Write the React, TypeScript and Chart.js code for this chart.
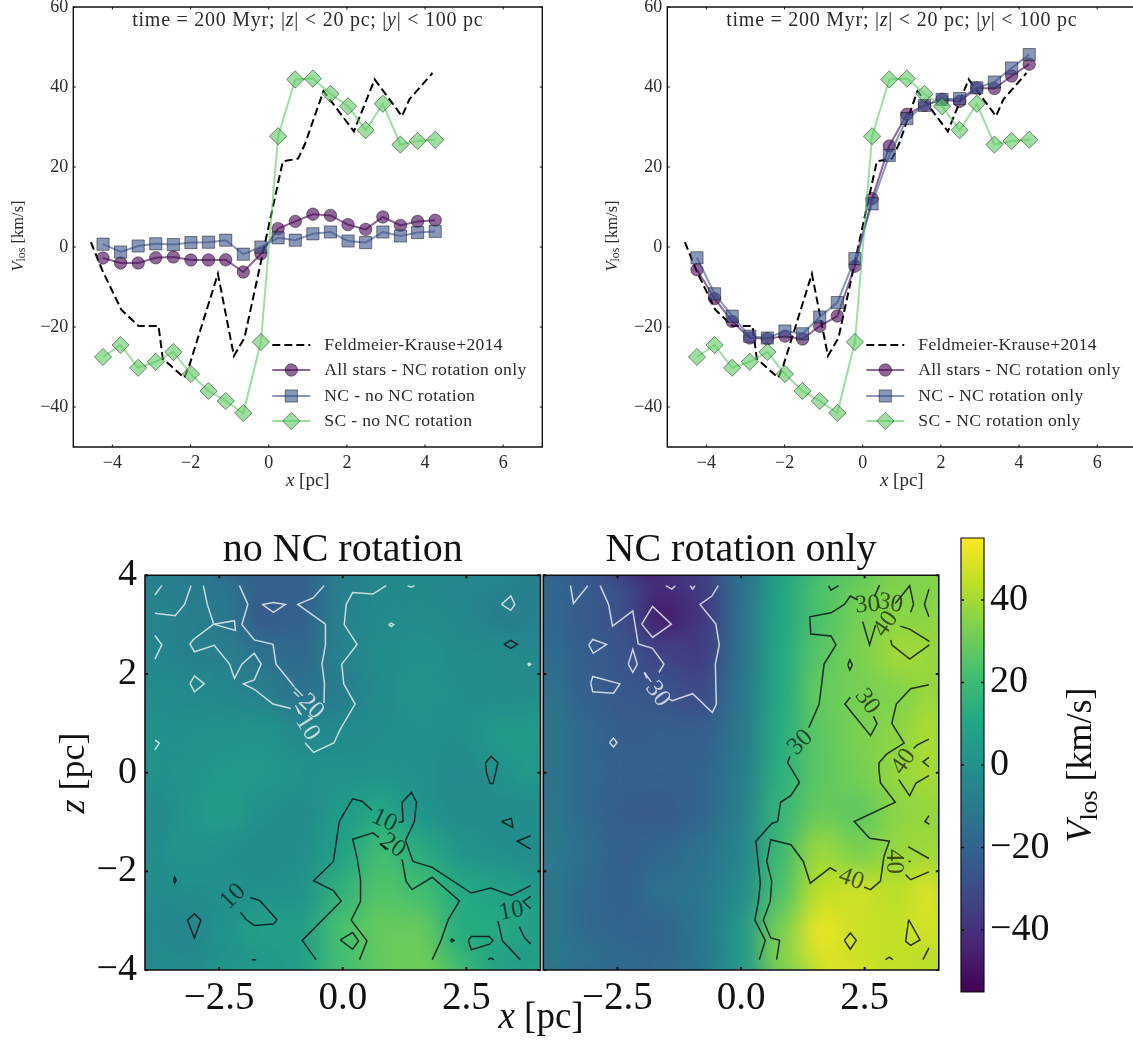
import React, { useEffect, useRef } from "react";
import { Chart, registerables } from "chart.js";
import { drawPoint } from "chart.js/helpers";

Chart.register(...registerables);

const SERIF = '"Liberation Serif"';
const W = 1200;
const H = 1040;

// ---------- line panels: data ----------
const xPositions = [-4.24, -3.79, -3.34, -2.89, -2.44, -1.99, -1.54, -1.1, -0.65, -0.2, 0.24, 0.68, 1.13, 1.58, 2.03, 2.48, 2.92, 3.37, 3.81, 4.26];
const feldmeierX = [-4.55, -4.26, -3.77, -3.33, -2.82, -2.71, -2.16, -2.03, -1.3, -0.89, -0.62, -0.19, 0.36, 0.75, 0.93, 1.4, 2.18, 2.71, 3.41, 3.6, 4.19];
const feldmeierV = [1.2, -5.8, -15.7, -19.75, -19.75, -27.9, -32.7, -29.6, -6.7, -27.25, -22.7, -3.3, 21.4, 22.1, 25.8, 39, 28.9, 41.9, 32.7, 36.9, 43.5];
const sc = [-27.5, -24.5, -30.2, -28.7, -26.25, -31.75, -36, -38.5, -41.5, -23.75, 27.7, 41.9, 42.1, 38.3, 35.2, 29.2, 35.8, 25.6, 26.5, 26.8];
const allNoRot = [-2.75, -4, -4, -2.7, -2.5, -3.25, -3.25, -3.2, -6.25, -1.7, 4.6, 6.4, 8.2, 7.9, 5.6, 4.4, 7.5, 5.4, 6.4, 6.7];
const ncNoRot = [0.7, -1.25, 0.25, 0.8, 0.6, 1.1, 1.2, 1.7, -1.8, 0, 2.3, 1.7, 3.3, 3.75, 1.5, 1.1, 3.75, 2.75, 3.6, 3.9];
const allRot = [-5.7, -12.9, -18.6, -22.75, -22.9, -22.3, -23, -19.8, -17.25, -4.8, 12.1, 25.25, 33.2, 35.4, 36.9, 36.4, 39.75, 39.6, 42.75, 45.7];
const ncRot = [-2.7, -11.7, -17.3, -22.3, -22.75, -21, -21.7, -17.5, -13.9, -2.9, 10.8, 22.9, 32.1, 35.4, 36.9, 37.1, 39.8, 41.25, 44.75, 48.1];
const legendLeft = ["Feldmeier-Krause+2014", "All stars - NC rotation only", "NC - no NC rotation", "SC - no NC rotation"];
const legendRight = ["Feldmeier-Krause+2014", "All stars - NC rotation only", "NC - NC rotation only", "SC - NC rotation only"];
const lineXTicks = [-4, -2, 0, 2, 4, 6];
const lineYTicks = [-40, -20, 0, 20, 40, 60];

// ---------- maps: data ----------
const heatX = [-4, -3.2, -2.4, -1.6, -0.8, 0, 0.8, 1.6, 2.4, 3.2, 4];
const heatZ = [4, 3.2, 2.4, 1.6, 0.8, 0, -0.8, -1.6, -2.4, -3.2, -4];
const heatLeft = [
  [-6, -9, -11, -18, -22, -9, -5, -4, -6, -5, -8],
  [-4, -8, -11, -25, -21, -7, -3, -2, -4, -9, -8],
  [-4, -7, -8, -14, -18, -6, -2, 1, -2, -2, -5],
  [-1, -3, -4, -8, -14, -9, -2, 2, -1, -2, -2],
  [0, 0, 1, 2, -4, -3, -1, 0, -1, 5, 5],
  [0, 1, 4, 4, 1, 1, 1, 0, -3, 1, 6],
  [-6, 2, 6, 0, -2, 5, 11, 1, -2, -2, -2],
  [-4, 2, 0, -3, -1, 7, 21, 13, 2, -1, -3],
  [-4, -1, -1, 0, 1, 16, 25, 21, 12, 8, 5],
  [-3, -6, 1, 8, 6, 23, 29, 29, 12, 12, 6],
  [2, -3, 0, 1, 7, 20, 28, 32, 18, 6, -1],
];
const heatRight = [
  [-12, -22, -26, -38, -36, -16, 9, 25, 30, 34, 32],
  [-15, -24, -28, -47, -38, -14, 9, 23, 32, 36, 34],
  [-13, -22, -26, -33, -36, -14, 11, 26, 33, 40, 38],
  [-8, -21, -25, -26, -31, -12, 11, 29, 32, 34, 40],
  [-9, -17, -23, -22, -22, -12, 13, 27, 33, 36, 44],
  [-9, -17, -21, -21, -20, -10, 14, 27, 32, 38, 42],
  [-8, -17, -23, -24, -20, -8, 17, 29, 27, 36, 38],
  [-6, -15, -21, -19, -14, -6, 19, 39, 32, 38, 40],
  [-8, -17, -21, -14, -12, -3, 23, 44, 47, 43, 53],
  [-8, -17, -20, -20, -12, 3, 32, 52, 46, 45, 50],
  [-6, -12, -16, -18, -14, 3, 35, 48, 46, 44, 40],
];
const heatTicksX = [-2.5, 0, 2.5];
const heatTicksZ = [-4, -2, 0, 2, 4];
const colorbarTicks = [-40, -20, 0, 20, 40];
const viridis = ["#440154", "#482475", "#414487", "#355f8d", "#2a788e", "#21918c", "#22a884", "#44bf70", "#7ad151", "#bddf26", "#fde725"];

type P = [number, number][];
const leftWhite: P[] = [
  [[-3.8, 3.6], [-3.66, 3.79]],
  [[-3.8, 3.23], [-3.39, 3.18], [-3.2, 3.41], [-3.07, 3.79]],
  [[-3.8, 2.78], [-3.66, 2.59], [-3.8, 2.3]],
  [[-2.82, 3.79], [-2.74, 3.41], [-2.61, 3.01], [-3.02, 2.7], [-3.09, 2.61], [-3.0, 2.45], [-2.6, 2.58], [-2.29, 2.2], [-2.19, 1.91], [-2.04, 2.2], [-1.79, 2.42], [-1.65, 2.2], [-1.79, 1.88], [-2.01, 1.8], [-1.79, 1.69], [-1.41, 1.39], [-1.05, 1.3]],
  [[-2.61, 3.01], [-2.19, 3.08], [-2.17, 2.88], [-2.61, 3.01]],
  [[-2.09, 3.79], [-1.92, 3.41], [-2.04, 3.0], [-1.79, 2.69], [-1.41, 2.6], [-1.35, 2.2], [-0.98, 1.74]],
  [[-0.99, 1.64], [-0.89, 1.54]],
  [[-0.92, 1.3], [-0.88, 1.19]],
  [[-1.63, 3.41], [-1.4, 3.45], [-1.16, 3.41], [-1.4, 3.25], [-1.63, 3.41]],
  [[-0.38, 3.79], [-0.6, 3.54], [-0.91, 3.41], [-0.35, 3.01], [-0.35, 2.59], [-0.42, 2.2], [-0.37, 1.81], [-0.38, 1.41]],
  [[0.88, 3.79], [0.61, 3.62], [0.2, 3.65], [0.07, 3.41], [0.03, 3.0], [0.29, 2.6], [-0.02, 2.2], [0.02, 1.8], [0.25, 1.39], [-0.05, 0.88], [-0.18, 0.6], [-0.59, 0.41], [-0.76, 0.6]],
  [[3.21, 3.41], [3.4, 3.58], [3.48, 3.41], [3.4, 3.29], [3.21, 3.41]],
  [[1.31, 3.79], [1.38, 3.76], [1.45, 3.79]],
  [[0.93, 3.0], [0.98, 3.03], [1.03, 3.0], [0.98, 2.96], [0.93, 3.0]],
  [[3.74, 2.2], [3.77, 2.22], [3.8, 2.2], [3.77, 2.17], [3.74, 2.2]],
  [[-3.09, 1.81], [-3.0, 1.96], [-2.8, 1.8], [-3.0, 1.64], [-3.09, 1.81]],
  [[-3.8, 0.66], [-3.71, 0.6], [-3.8, 0.46]],
];
const leftBlack: P[] = [
  [[3.26, 2.6], [3.4, 2.68], [3.53, 2.6], [3.4, 2.52], [3.26, 2.6]],
  [[2.91, -0.01], [2.89, 0.2], [3.0, 0.33], [3.14, 0.2], [3.09, -0.01], [3.04, -0.22], [2.98, -0.22], [2.91, -0.01]],
  [[-3.14, -2.99], [-3.0, -2.86], [-2.87, -2.99], [-3.0, -3.35], [-3.14, -2.99]],
  [[-3.42, -2.18], [-3.4, -2.12], [-3.37, -2.18], [-3.4, -2.24], [-3.42, -2.18]],
  [[-1.87, -2.53], [-1.68, -2.59], [-1.33, -2.98], [-1.4, -3.07], [-1.79, -3.1], [-1.95, -2.98], [-2.07, -2.83]],
  [[-1.84, -3.79], [-1.75, -3.79]],
  [[-0.54, -3.79], [-0.82, -3.4], [-0.03, -2.6], [-0.19, -2.39], [-0.59, -2.19], [-0.19, -1.8], [-0.07, -0.99], [-0.05, -0.95], [0.2, -0.53], [0.39, -0.58], [0.59, -0.76]],
  [[1.13, -1.01], [1.22, -0.99], [1.2, -0.6], [1.39, -0.4], [1.49, -0.6], [1.45, -0.99], [1.27, -1.37], [1.42, -1.8], [1.81, -1.92], [2.6, -2.44], [2.99, -2.34], [3.41, -2.49], [3.8, -2.29]],
  [[0.73, -1.31], [0.61, -1.22], [0.2, -1.35], [0.29, -1.73], [0.36, -2.18], [0.36, -2.61], [0.17, -2.99], [0.49, -3.41], [0.34, -3.79]],
  [[0.75, -1.43], [0.88, -1.56]],
  [[1.2, -1.76], [1.28, -2.2], [1.4, -2.37], [1.81, -2.12], [2.36, -2.6], [2.13, -2.99], [1.98, -3.42], [1.81, -3.79]],
  [[-0.05, -3.39], [0.2, -3.24], [0.32, -3.41], [0.2, -3.58], [-0.05, -3.39]],
  [[2.18, -3.4], [2.21, -3.37], [2.25, -3.4], [2.21, -3.43], [2.18, -3.4]],
  [[2.54, -3.4], [2.6, -3.32], [2.96, -3.32], [3.04, -3.4], [2.98, -3.47], [2.6, -3.59], [2.54, -3.4]],
  [[2.94, -3.79], [2.99, -3.76], [3.06, -3.79]],
  [[3.14, -3.01], [3.23, -3.41], [3.59, -3.79]],
  [[3.57, -3.12], [3.68, -3.35], [3.8, -3.47]],
  [[3.8, -2.51], [3.65, -2.61], [3.8, -2.76]],
  [[3.21, -0.99], [3.41, -0.93], [3.44, -1.11], [3.21, -0.99]],
  [[3.8, -1.28], [3.53, -1.39], [3.8, -1.55]],
];
const rightWhite: P[] = [
  [[-3.45, 3.79], [-3.39, 3.43], [-3.1, 3.79]],
  [[-2.85, 3.79], [-2.68, 3.41], [-2.6, 2.97], [-2.19, 3.28], [-2.08, 2.61], [-1.79, 2.52], [-1.56, 2.2], [-1.66, 2.03]],
  [[-1.96, 2.03], [-1.9, 1.91]],
  [[-1.45, 1.49], [-1.39, 1.46], [-0.98, 1.6], [-0.58, 1.22], [-0.5, 1.39], [-0.52, 2.2], [-0.44, 2.59], [-0.51, 3.01], [-0.83, 3.41], [-0.59, 3.58], [-0.46, 3.79]],
  [[-2.01, 3.01], [-1.79, 3.37], [-1.41, 3.01], [-1.79, 2.74], [-2.01, 3.01]],
  [[-1.52, 3.79], [-1.4, 3.72], [-1.33, 3.79]],
  [[-1.03, 3.79], [-0.98, 3.72], [-0.93, 3.79]],
  [[-3.08, 2.59], [-3.0, 2.7], [-2.72, 2.6], [-2.99, 2.42], [-3.08, 2.59]],
  [[-2.28, 2.2], [-2.19, 2.5], [-2.1, 2.2], [-2.19, 2.03], [-2.28, 2.2]],
  [[-3.04, 1.81], [-3.0, 1.95], [-2.45, 1.8], [-2.58, 1.61], [-3.0, 1.64], [-3.04, 1.81]],
  [[-2.66, 0.61], [-2.58, 0.7], [-2.51, 0.61], [-2.58, 0.52], [-2.66, 0.61]],
];
const rightBlack: P[] = [
  [[1.77, 3.79], [1.82, 3.7], [1.97, 3.79]],
  [[0.37, -3.79], [0.49, -3.4], [0.28, -2.99], [0.35, -2.61], [0.39, -2.24], [0.3, -1.39], [0.62, -1.03], [0.74, -0.99], [0.8, -0.6], [1.01, -0.46], [1.18, -0.2], [1.03, 0.06], [0.94, 0.2], [0.99, 0.33]],
  [[1.37, 0.91], [1.58, 1.39], [1.68, 2.2], [1.92, 2.59], [1.82, 2.77], [1.41, 2.81], [1.39, 3.16], [1.82, 3.24], [2.09, 3.41], [2.21, 3.58], [2.36, 3.5]],
  [[2.8, 3.8], [2.7, 3.57]],
  [[3.12, 3.43], [3.41, 3.79], [3.49, 3.41], [3.43, 3.25]],
  [[3.8, 3.72], [3.71, 3.41], [3.8, 3.16]],
  [[2.46, 3.06], [2.6, 2.59], [2.72, 2.99]],
  [[3.22, 2.97], [3.41, 2.91], [3.81, 2.66]],
  [[3.03, 2.69], [3.05, 2.59], [3.41, 2.3], [3.81, 2.59]],
  [[2.16, 2.18], [2.2, 2.29], [2.25, 2.18], [2.2, 2.08], [2.16, 2.18]],
  [[2.21, 1.53], [2.1, 1.39], [2.62, 0.75], [2.75, 0.99], [2.68, 1.14]],
  [[3.8, 1.78], [3.43, 1.7], [3.14, 1.39], [3.05, 1.0], [3.3, 0.6], [2.95, 0.38], [2.79, 0.2], [2.79, 0.06], [2.82, -0.21], [3.12, -0.6], [2.29, -0.99], [2.6, -1.33], [3.0, -1.39], [2.89, -1.7], [2.82, -2.2], [2.62, -2.37], [2.49, -2.32]],
  [[1.93, -2.0], [1.8, -1.93], [1.4, -2.24], [1.26, -1.8], [1.01, -1.46], [0.6, -1.36], [0.52, -1.8], [0.62, -2.2], [0.59, -2.61], [0.45, -2.99], [0.6, -3.35], [0.78, -3.4], [0.72, -3.79]],
  [[3.8, 0.68], [3.56, 0.56], [3.49, 0.49]],
  [[3.8, 0.31], [3.68, 0.22], [3.8, 0.12]],
  [[3.19, -0.14], [3.41, -0.47], [3.54, -0.21], [3.8, -0.06]],
  [[3.8, -0.87], [3.72, -0.99], [3.81, -1.05]],
  [[3.38, -1.5], [3.43, -1.53], [3.8, -1.74]],
  [[3.33, -2.07], [3.43, -2.17], [3.8, -2.01]],
  [[3.39, -1.79], [3.41, -1.8], [3.43, -1.81]],
  [[3.39, -2.98], [3.62, -3.39], [3.43, -3.5], [3.33, -3.42], [3.39, -2.98]],
  [[2.09, -3.4], [2.21, -3.25], [2.33, -3.4], [2.21, -3.58], [2.09, -3.4]],
  [[2.92, -3.79], [3.0, -3.74], [3.07, -3.79]],
  [[3.68, -3.79], [3.8, -3.55]],
];
type CL = [number, number, string, number, boolean];
const leftLabels: CL[] = [
  [-0.74, 1.44, "\u221220", 45, true],
  [-0.79, 1.03, "\u221210", 58, true],
  [0.84, -0.97, "10", 25, false],
  [1.01, -1.48, "20", 35, false],
  [-2.22, -2.51, "10", -45, false],
  [3.41, -2.81, "10", -10, false],
];
const rightLabels: CL[] = [
  [-1.77, 1.71, "\u221230", 55, true],
  [1.2, 0.61, "30", -45, false],
  [2.56, 3.4, "30", -5, false],
  [3.02, 3.43, "30", 10, false],
  [2.93, 3.01, "40", -55, false],
  [2.55, 1.44, "30", 55, false],
  [3.29, 0.22, "40", -55, false],
  [2.23, -2.16, "40", 20, false],
  [3.09, -1.8, "40", 90, false],
];

// ---------- helpers ----------
function viridisAt(v: number) {
  const t = Math.max(0, Math.min(1, (v + 55) / 110)) * 10;
  const i = Math.min(9, Math.floor(t));
  const f = t - i;
  const c = (h: string, o: number) => parseInt(h.slice(o, o + 2), 16);
  const m = (o: number) => Math.round(c(viridis[i], o) * (1 - f) + c(viridis[i + 1], o) * f);
  return `rgb(${m(1)},${m(3)},${m(5)})`;
}
const fmtMinus = (v: number, d = 0) => (v < 0 ? "\u2212" : "") + Math.abs(v).toFixed(d);

type Seg = { t: string; i?: boolean; sub?: boolean };
function drawRich(ctx: any, segs: Seg[], x: number, y: number, size: number, rot = 0, color = "#2a2a2a", spacing = 0) {
  ctx.save();
  ctx.translate(x, y);
  ctx.rotate(rot);
  ctx.fillStyle = color;
  ctx.textBaseline = "middle";
  ctx.textAlign = "left";
  ctx.letterSpacing = `${spacing}px`;
  const fontOf = (s: Seg) => `${s.i ? "italic " : ""}${s.sub ? size * 0.72 : size}px ${SERIF}`;
  let total = 0;
  segs.forEach((s) => { ctx.font = fontOf(s); total += ctx.measureText(s.t).width; });
  let cx = -total / 2;
  segs.forEach((s) => {
    ctx.font = fontOf(s);
    ctx.fillText(s.t, cx, s.sub ? size * 0.22 : 0);
    cx += ctx.measureText(s.t).width;
  });
  ctx.restore();
}

const framePlugin = {
  id: "frameTicks",
  afterDraw(chart: any) {
    const o = chart.options.plugins.frameTicks;
    const { left, right, top, bottom } = chart.chartArea;
    const ctx = chart.ctx;
    ctx.save();
    ctx.strokeStyle = "#111";
    ctx.lineWidth = o.width;
    ctx.beginPath();
    ctx.rect(left, top, right - left, bottom - top);
    ctx.stroke();
    ctx.lineWidth = o.tickWidth;
    ctx.beginPath();
    const xs = chart.scales.x;
    if (xs && xs.type === "linear") {
      xs.ticks.forEach((t: any) => {
        const p = xs.getPixelForValue(t.value);
        ctx.moveTo(p, top); ctx.lineTo(p, top + o.tick);
        ctx.moveTo(p, bottom); ctx.lineTo(p, bottom - o.tick);
      });
    }
    const ys = chart.scales.y;
    ys.ticks.forEach((t: any) => {
      const p = ys.getPixelForValue(t.value);
      ctx.moveTo(left, p); ctx.lineTo(left + o.tick, p);
      ctx.moveTo(right, p); ctx.lineTo(right - o.tick, p);
    });
    ctx.stroke();
    ctx.restore();
  },
};

const textPlugin = {
  id: "richText",
  afterDraw(chart: any) {
    const items = chart.options.plugins.richText.items || [];
    items.forEach((it: any) => drawRich(chart.ctx, it.segs, it.x, it.y, it.size, it.rot || 0, it.color, it.spacing || 0));
  },
};

const legendPlugin = {
  id: "panelLegend",
  afterDraw(chart: any) {
    const o = chart.options.plugins.panelLegend;
    if (!o || !o.labels) return;
    const ctx = chart.ctx;
    const ds = chart.data.datasets;
    o.labels.forEach((label: string, i: number) => {
      const d = ds[i];
      const y = o.rows[i];
      ctx.save();
      ctx.strokeStyle = d.borderColor;
      ctx.lineWidth = d.borderWidth;
      ctx.setLineDash(d.borderDash || []);
      ctx.beginPath();
      ctx.moveTo(o.x, y);
      ctx.lineTo(o.x + 38, y);
      ctx.stroke();
      ctx.setLineDash([]);
      if (d.pointRadius > 0) {
        ctx.fillStyle = d.pointBackgroundColor;
        ctx.strokeStyle = d.pointBorderColor;
        ctx.lineWidth = d.pointBorderWidth;
        drawPoint(ctx, { pointStyle: d.pointStyle, radius: d.pointRadius, rotation: 0, borderWidth: d.pointBorderWidth }, o.x + 19, y);
      }
      ctx.font = `17.6px ${SERIF}`;
      (ctx as any).letterSpacing = "0.33px";
      ctx.fillStyle = "#2a2a2a";
      ctx.textBaseline = "middle";
      ctx.fillText(label, o.x + 52, y);
      ctx.restore();
    });
  },
};

const heatBlurPlugin = {
  id: "heatBlur",
  afterDatasetDraw(chart: any, args: any) {
    if (args.index !== 0 || !chart.options.plugins.heatBlur.on) return;
    const { left, top, width, height } = chart.chartArea;
    const pad = 50;
    const off = document.createElement("canvas");
    off.width = width + pad * 2;
    off.height = height + pad * 2;
    const o = off.getContext("2d")!;
    o.drawImage(chart.canvas, left, top, width, height, 0, 0, off.width, off.height);
    o.drawImage(chart.canvas, left, top, width, height, pad, pad, width, height);
    const ctx = chart.ctx;
    ctx.save();
    ctx.beginPath();
    ctx.rect(left, top, width, height);
    ctx.clip();
    ctx.filter = "blur(13px)";
    ctx.drawImage(off, left - pad, top - pad);
    ctx.restore();
  },
};

const contourLabelPlugin = {
  id: "contourLabels",
  afterDraw(chart: any) {
    const labels: CL[] = chart.options.plugins.contourLabels.items || [];
    const ctx = chart.ctx;
    labels.forEach(([x, z, t, r, white]) => {
      ctx.save();
      ctx.translate(chart.scales.x.getPixelForValue(x), chart.scales.y.getPixelForValue(z));
      ctx.rotate((r * Math.PI) / 180);
      ctx.font = `25px ${SERIF}`;
      ctx.fillStyle = white ? "rgba(255,255,255,0.72)" : "rgba(0,0,0,0.62)";
      ctx.textAlign = "center";
      ctx.textBaseline = "middle";
      ctx.fillText(t, 0, 0);
      ctx.restore();
    });
  },
};

function fixedAxis(kind: "x" | "y", size: number) {
  return (s: any) => {
    if (kind === "x") s.height = size; else s.width = size;
    s.paddingTop = 0; s.paddingBottom = 0; s.paddingLeft = 0; s.paddingRight = 0;
  };
}
function setTicks(values: number[]) {
  return (s: any) => { s.ticks = values.map((value) => ({ value })); };
}
function zip(xs: number[], ys: number[]) {
  return xs.map((x, i) => ({ x, y: ys[i] }));
}

const PURPLE = "68,1,84";
const BLUE = "59,82,139";
const GREEN = "94,201,98";
function markerSeries(label: string, ys: number[], rgb: string, style: string, r: number, order: number) {
  return {
    label,
    data: zip(xPositions, ys),
    showLine: true,
    borderColor: `rgba(${rgb},0.6)`,
    borderWidth: 2,
    pointStyle: style,
    pointRadius: r,
    pointHoverRadius: r,
    pointBackgroundColor: `rgba(${rgb},0.6)`,
    pointBorderColor: "rgba(0,0,0,0.45)",
    pointBorderWidth: 1,
    order,
  };
}

function linePanel(l: number, r: number, labels: string[], all: number[], nc: number[]) {
  const t = 7, b = 447;
  const cx = (l + r) / 2;
  return {
    type: "scatter",
    data: {
      datasets: [
        { label: labels[0], data: zip(feldmeierX, feldmeierV), showLine: true, borderColor: "#000", borderWidth: 2, borderDash: [8, 4], pointRadius: 0, order: 4 },
        markerSeries(labels[1], all, PURPLE, "circle", 6.2, 3),
        markerSeries(labels[2], nc, BLUE, "rect", 8.6, 2),
        markerSeries(labels[3], sc, GREEN, "rectRot", 8.6, 1),
      ],
    },
    options: {
      animation: false, responsive: false,
      layout: { autoPadding: false, padding: { left: l - 60, right: W - r, top: t, bottom: H - b - 30 } },
      scales: {
        x: {
          type: "linear", min: -5, max: 7,
          afterBuildTicks: setTicks(lineXTicks), afterFit: fixedAxis("x", 30),
          grid: { display: false, drawTicks: false }, border: { display: false },
          ticks: { padding: 5, color: "#2a2a2a", maxRotation: 0, autoSkip: false, font: { family: SERIF, size: 18 }, callback: (v: number) => fmtMinus(v) },
        },
        y: {
          type: "linear", min: -50, max: 60,
          afterBuildTicks: setTicks(lineYTicks), afterFit: fixedAxis("y", 60),
          grid: { display: false, drawTicks: false }, border: { display: false },
          ticks: { padding: 5, color: "#2a2a2a", autoSkip: false, font: { family: SERIF, size: 18 }, callback: (v: number) => fmtMinus(v) },
        },
      },
      plugins: {
        legend: { display: false }, tooltip: { enabled: false },
        frameTicks: { width: 1.4, tickWidth: 1, tick: 2.5 },
        panelLegend: { labels, x: l + 199, rows: [345, 370, 396, 421] },
        richText: {
          items: [
            { segs: [{ t: "time = 200 Myr; |" }, { t: "z", i: true }, { t: "| < 20 pc; |" }, { t: "y", i: true }, { t: "| < 100 pc" }], x: cx, y: 21, size: 20, spacing: 0.75 },
            { segs: [{ t: "x", i: true }, { t: " [pc]" }], x: cx, y: 481, size: 19 },
            { segs: [{ t: "V", i: true }, { t: "los", sub: true }, { t: " [km/s]" }], x: l - 55, y: 236, size: 16.5, rot: -Math.PI / 2 },
          ],
        },
      },
    },
    plugins: [framePlugin, legendPlugin, textPlugin],
  };
}

function mapPanel(l: number, r: number, rows: number[][], white: P[], black: P[], labels: CL[], title: string, showY: boolean, extra: any[]) {
  const t = 575.3, b = 970;
  const cells = heatZ.flatMap((z, j) => heatX.map((x, i) => ({ x, y: z, v: rows[j][i] })));
  const contour = (poly: P, color: string) => ({
    data: poly.map(([x, y]) => ({ x, y })), showLine: true, borderColor: color, borderWidth: 1.5, pointRadius: 0, order: 0,
  });
  return {
    type: "scatter",
    data: {
      datasets: [
        {
          data: cells,
          pointStyle: "rect",
          pointRadius: (c: any) => {
            const s = c.chart.scales.x;
            return ((s.getPixelForValue(heatX[1]) - s.getPixelForValue(heatX[0])) * Math.SQRT1_2) + 1;
          },
          pointBackgroundColor: cells.map((c) => viridisAt(c.v)),
          pointBorderWidth: 0,
          order: 10,
        },
        ...white.map((p) => contour(p, "rgba(235,240,245,0.82)")),
        ...black.map((p) => contour(p, "rgba(10,20,25,0.85)")),
      ],
    },
    options: {
      animation: false, responsive: false,
      layout: { autoPadding: false, padding: { left: l - 60, right: W - r, top: t, bottom: H - b - 50 } },
      scales: {
        x: {
          type: "linear", min: -4, max: 4,
          afterBuildTicks: setTicks(heatTicksX), afterFit: fixedAxis("x", 50),
          grid: { display: false, drawTicks: false }, border: { display: false },
          ticks: { padding: 5, color: "#111", maxRotation: 0, autoSkip: false, font: { family: SERIF, size: 39 }, callback: (v: number) => fmtMinus(v, 1) },
        },
        y: {
          type: "linear", min: -4, max: 4,
          afterBuildTicks: setTicks(heatTicksZ), afterFit: fixedAxis("y", 60),
          grid: { display: false, drawTicks: false }, border: { display: false },
          ticks: { display: showY, padding: 8, color: "#111", autoSkip: false, font: { family: SERIF, size: 38 }, callback: (v: number) => fmtMinus(v) },
        },
      },
      plugins: {
        legend: { display: false }, tooltip: { enabled: false },
        heatBlur: { on: true },
        contourLabels: { items: labels },
        frameTicks: { width: 1.6, tickWidth: 2, tick: 3 },
        richText: { items: [{ segs: [{ t: title }], x: (l + r) / 2, y: 550, size: 40, color: "#111" }, ...extra] },
      },
    },
    plugins: [heatBlurPlugin, framePlugin, contourLabelPlugin, textPlugin],
  };
}

function colorbarPanel() {
  const l = 961, r = 984, t = 538, b = 992;
  return {
    type: "bar",
    data: {
      labels: [""],
      datasets: [{
        data: [[-55, 55]],
        categoryPercentage: 1, barPercentage: 1, borderWidth: 0,
        backgroundColor: (c: any) => {
          const a = c.chart.chartArea;
          if (!a) return viridis[5];
          const g = c.chart.ctx.createLinearGradient(0, a.bottom, 0, a.top);
          viridis.forEach((h, i) => g.addColorStop(i / (viridis.length - 1), h));
          return g;
        },
      }],
    },
    options: {
      animation: false, responsive: false,
      layout: { autoPadding: false, padding: { left: l, right: W - r - 100, top: t, bottom: H - b } },
      scales: {
        x: { display: false },
        y: {
          type: "linear", position: "right", min: -55, max: 55,
          afterBuildTicks: setTicks(colorbarTicks), afterFit: fixedAxis("y", 100),
          grid: { display: false, drawTicks: false }, border: { display: false },
          ticks: { padding: 6, color: "#111", autoSkip: false, crossAlign: "near", font: { family: SERIF, size: 38 }, callback: (v: number) => fmtMinus(v) },
        },
      },
      plugins: {
        legend: { display: false }, tooltip: { enabled: false },
        frameTicks: { width: 1.2, tickWidth: 1.5, tick: 3 },
        richText: { items: [{ segs: [{ t: "V", i: true }, { t: "los", sub: true }, { t: " [km/s]" }], x: 1082, y: 765, size: 36, rot: -Math.PI / 2, color: "#111" }] },
      },
    },
    plugins: [framePlugin, textPlugin],
  };
}

export default function App() {
  const refs = [useRef<HTMLCanvasElement>(null), useRef<HTMLCanvasElement>(null), useRef<HTMLCanvasElement>(null), useRef<HTMLCanvasElement>(null), useRef<HTMLCanvasElement>(null)];
  useEffect(() => {
    const configs: any[] = [
      linePanel(73.3, 542.3, legendLeft, allNoRot, ncNoRot),
      linePanel(667.3, 1136.3, legendRight, allRot, ncRot),
      mapPanel(145, 540.5, heatLeft, leftWhite, leftBlack, leftLabels, "no NC rotation", true, [
        { segs: [{ t: "x", i: true }, { t: " [pc]" }], x: 541, y: 1018, size: 37, color: "#111" },
        { segs: [{ t: "z", i: true }, { t: " [pc]" }], x: 75, y: 773, size: 36, rot: -Math.PI / 2, color: "#111" },
      ]),
      mapPanel(543.3, 938.8, heatRight, rightWhite, rightBlack, rightLabels, "NC rotation only", false, []),
      colorbarPanel(),
    ];
    const charts = configs.map((c, i) => new Chart(refs[i].current!, c));
    return () => charts.forEach((c) => c.destroy());
  }, []);
  return (
    <div style={{ position: "fixed", left: 0, top: 0, width: 1133, height: 1040, overflow: "hidden", background: "#fff" }}>
      {refs.map((r, i) => (
        <canvas key={i} ref={r} width={W} height={H} style={{ position: "absolute", left: 0, top: 0 }} />
      ))}
    </div>
  );
}
